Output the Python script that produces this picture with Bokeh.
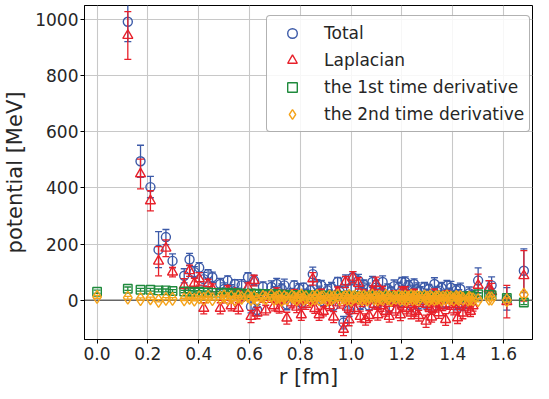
import numpy as np
from bokeh.plotting import figure
from bokeh.models import (ColumnDataSource, Range1d, FixedTicker, PrintfTickFormatter,
                          Span, Legend, LegendItem)
from bokeh.embed import file_html
from bokeh.resources import INLINE

nan = float("nan")

r_fm = [0.000, 0.121, 0.171, 0.210, 0.242, 0.271, 0.297, 0.343, 0.364, 0.383,
        0.402, 0.420, 0.437, 0.454, 0.485, 0.500, 0.514, 0.528, 0.542, 0.556,
        0.569, 0.594, 0.606, 0.618, 0.630, 0.653, 0.664, 0.686, 0.697, 0.707,
        0.717, 0.727, 0.737, 0.747, 0.767, 0.776, 0.786, 0.795, 0.804, 0.813,
        0.822, 0.840, 0.849, 0.857, 0.866, 0.874, 0.883, 0.891, 0.907, 0.915,
        0.923, 0.931, 0.947, 0.955, 0.970, 0.978, 0.985, 0.992, 1.000, 1.007,
        1.014, 1.029, 1.036, 1.043, 1.050, 1.057, 1.064, 1.071, 1.084, 1.091,
        1.098, 1.105, 1.111, 1.118, 1.124, 1.137, 1.144, 1.150, 1.157, 1.169,
        1.176, 1.188, 1.194, 1.200, 1.206, 1.213, 1.219, 1.225, 1.236, 1.242,
        1.248, 1.254, 1.260, 1.266, 1.272, 1.289, 1.295, 1.300, 1.306, 1.311,
        1.317, 1.328, 1.334, 1.339, 1.345, 1.356, 1.361, 1.372, 1.377, 1.388,
        1.393, 1.404, 1.414, 1.419, 1.424, 1.430, 1.440, 1.460, 1.465, 1.470,
        1.480, 1.500, 1.543, 1.553, 1.613, 1.680]

total = [nan, 992, 495, 403, 180, 225, 140, 87, 145, 100,
         116, 75, 93, 82, 58, 40, 70, 35, 58, 25,
         53, 82, -23, 70, -35, 48, 20, 47, 30, 58,
         10, 40, 53, -15, 25, 53, 15, 41, -10, 45,
         20, 35, 93, 10, 53, 28, 53, -5, 35, 20,
         45, -20, 65, 30, -80, 70, 15, -35, 40, 82,
         10, 70, -15, 30, 55, 5, 40, -20, 65, 25,
         45, -10, 35, 20, 65, 5, 40, -25, 30, 50,
         10, 45, -5, 65, 25, 65, 15, 53, -20, 35,
         58, 5, 40, -15, 30, 46, -10, 20, 40, 10,
         -25, 58, 15, 30, -5, 45, 20, -10, 52, 25,
         45, 5, 35, -15, 20, 40, -17, 10, 25, -5,
         15, 70, 35, 53, 5, 105]
total_err = [0, 71, 57, 38, 64, 27, 25, 25, 22, 20,
             18, 24, 16, 18, 20, 22, 17, 20, 15, 18,
             20, 16, 22, 18, 20, 17, 16, 22, 18, 20,
             15, 18, 22, 19, 17, 16, 20, 18, 22, 16,
             19, 18, 25, 16, 20, 22, 18, 16, 20, 17,
             18, 21, 16, 19, 22, 20, 18, 23, 17, 20,
             16, 22, 18, 20, 17, 19, 21, 16, 20, 18,
             25, 17, 19, 20, 22, 16, 18, 20, 17, 22,
             18, 19, 20, 16, 23, 18, 20, 17, 21, 19,
             18, 16, 22, 20, 18, 17, 21, 19, 16, 20,
             18, 22, 17, 19, 20, 18, 16, 21, 19, 18,
             22, 17, 20, 19, 18, 21, 20, 18, 22, 19,
             20, 45, 34, 30, 40, 78]

laplacian = [nan, 943, 450, 354, 139, 185, 100, 52, 105, 60,
             76, -29, 58, 40, -29, 10, 35, -20, 25, -29,
             15, 45, -58, 70, -46, 10, -35, 12, -20, 25,
             -30, 5, 15, -64, -10, 20, -25, 5, -52, 10,
             -15, 0, 76, -30, 15, -52, 20, -40, 0, -20,
             10, -60, 30, -10, -104, 65, -25, -70, 5, 82,
             -30, 60, -58, -5, 20, -69, 5, -55, 30, -15,
             60, -52, 0, -20, 30, -40, 5, -58, -5, 15,
             -35, 10, -52, 30, -15, 30, -30, 15, -46, 0,
             20, -40, 5, -55, -5, 10, -75, -15, 5, -30,
             -60, 20, -25, -5, -45, 10, -20, -69, 15, -15,
             10, -35, 0, -63, -15, 5, -46, -25, -10, -40,
             -20, 53, 40, 30, -5, 87]
laplacian_err = [0, 85, 53, 36, 52, 30, 17, 25, 20, 18,
                 22, 20, 16, 18, 20, 19, 17, 18, 16, 20,
                 18, 17, 22, 19, 20, 18, 17, 20, 18, 19,
                 16, 18, 20, 21, 17, 18, 19, 18, 20, 17,
                 18, 19, 22, 17, 18, 20, 19, 16, 18, 17,
                 19, 20, 17, 18, 22, 20, 18, 21, 17, 20,
                 18, 20, 19, 18, 17, 20, 19, 18, 20, 17,
                 22, 19, 18, 20, 19, 17, 18, 20, 17, 19,
                 18, 20, 21, 17, 20, 18, 19, 17, 20, 18,
                 19, 17, 20, 19, 18, 17, 22, 19, 18, 20,
                 18, 20, 17, 19, 20, 18, 17, 21, 19, 18,
                 20, 17, 19, 20, 18, 21, 20, 19, 20, 18,
                 19, 40, 30, 30, 58, 90]

deriv1 = [30, 41, 37, 37, 35, 35, 33, 31, 30, 28,
          30, 27, 28, 26, 27, 25, 27, 24, 25, 23,
          24, 22, 24, 21, 23, 20, 22, 21, 19, 21,
          20, 18, 20, 19, 17, 19, 18, 17, 19, 16,
          18, 17, 16, 18, 15, 17, 16, 15, 17, 14,
          16, 15, 14, 16, 15, 13, 15, 14, 16, 13,
          15, 14, 13, 15, 14, 13, 15, 14, 12, 14,
          13, 15, 12, 14, 13, 12, 14, 13, 15, 12,
          14, 13, 12, 14, 13, 11, 13, 14, 12, 13,
          11, 13, 12, 14, 11, 13, 12, 11, 13, 12,
          14, 11, 12, 13, 11, 12, 13, 11, 12, 14,
          11, 13, 12, 10, 12, 13, 11, 14, 12, 15,
          13, 21, 20, 18, 8, -8]
deriv1_err = [6, 6, 5, 5, 5, 5, 5, 4, 5, 4,
              4, 3, 5, 4, 4, 3, 4, 5, 4, 3,
              4, 4, 3, 5, 4, 4, 3, 4, 4, 5,
              3, 4, 4, 3, 5, 4, 4, 3, 4, 4,
              5, 3, 4, 4, 3, 4, 5, 4, 3, 4,
              4, 3, 5, 4, 4, 3, 4, 4, 5, 3,
              4, 4, 3, 5, 4, 4, 3, 4, 4, 5,
              3, 4, 4, 3, 5, 4, 4, 3, 4, 4,
              5, 3, 4, 4, 3, 4, 5, 4, 3, 4,
              4, 3, 5, 4, 4, 3, 4, 4, 5, 3,
              4, 4, 3, 5, 4, 4, 3, 4, 4, 5,
              3, 4, 4, 3, 5, 4, 4, 5, 4, 4,
              5, 6, 6, 7, 8, 8]

deriv2 = [12, 9, 4, 7, -2, 5, 5, 3, 8, 2,
          10, 5, 12, 4, 9, 14, 6, 11, 3, 13,
          8, 15, 5, 10, 2, 12, 7, 16, 4, 9,
          13, 1, 11, 6, 14, 8, 3, 12, 17, 5,
          10, 0, 13, 7, 15, 4, 9, 11, 2, 14,
          6, 10, 16, 3, 8, 12, 5, 15, 1, 9,
          13, 7, 11, 4, 14, 8, 2, 12, 16, 6,
          10, 3, 13, 9, 5, 15, 7, 11, 1, 12,
          8, 14, 4, 10, 6, 13, 2, 9, 15, 5,
          11, 7, 12, 3, 10, 14, 6, 9, 1, 13,
          8, 4, 11, 7, 12, 2, 10, 6, 14, 5,
          9, 3, 12, 8, 4, 11, 6, 2, 9, 5,
          3, 0, 6, 6, 0, 20]
deriv2_err = [5, 5, 4, 4, 4, 4, 4, 4, 3, 4,
              5, 4, 3, 4, 5, 4, 4, 3, 5, 4,
              4, 3, 5, 4, 4, 5, 3, 4, 4, 5,
              4, 4, 3, 5, 4, 4, 5, 3, 4, 4,
              5, 4, 4, 3, 5, 4, 4, 5, 3, 4,
              4, 5, 4, 4, 3, 5, 4, 4, 5, 3,
              4, 4, 5, 4, 4, 3, 5, 4, 4, 5,
              3, 4, 4, 5, 4, 4, 3, 5, 4, 4,
              5, 3, 4, 4, 5, 4, 4, 3, 5, 4,
              4, 5, 4, 4, 3, 5, 4, 4, 5, 3,
              4, 4, 5, 4, 4, 3, 5, 4, 4, 5,
              3, 4, 4, 5, 4, 4, 3, 5, 4, 4,
              5, 6, 6, 7, 8, 10]

x_ticks = [0.0, 0.2, 0.4, 0.6, 0.8, 1.0, 1.2, 1.4, 1.6]
y_ticks = [0, 200, 400, 600, 800, 1000]

for name, arr in [("total", total), ("total_err", total_err), ("laplacian", laplacian),
                  ("laplacian_err", laplacian_err), ("deriv1", deriv1), ("deriv1_err", deriv1_err),
                  ("deriv2", deriv2), ("deriv2_err", deriv2_err)]:
    if len(arr) != len(r_fm):
        raise ValueError(f"{name}: {len(arr)} vs {len(r_fm)}")

FONT = "DejaVu Sans"
TXT = "#262626"

p = figure(width=533, height=391, output_backend="svg", toolbar_location=None,
           x_range=Range1d(-0.0495, 1.714), y_range=Range1d(-140, 1050),
           min_border_left=77, min_border_right=1, min_border_top=5, min_border_bottom=40)
p.background_fill_color = "white"
p.outline_line_color = "black"
p.outline_line_width = 1

for ax in (p.xaxis[0], p.yaxis[0]):
    ax.major_label_text_font = FONT
    ax.major_label_text_font_size = "17px"
    ax.major_label_text_color = TXT
    ax.minor_tick_line_color = None
    ax.major_tick_in = 0
    ax.major_tick_out = 4
    ax.major_tick_line_color = "black"
    ax.axis_line_color = "black"
    ax.axis_line_width = 1
    ax.axis_label_text_font = FONT
    ax.axis_label_text_font_size = "21px"
    ax.axis_label_text_font_style = "normal"
    ax.axis_label_text_color = TXT

p.xaxis.ticker = FixedTicker(ticks=x_ticks)
p.xaxis.formatter = PrintfTickFormatter(format="%.1f")
p.xaxis.major_label_standoff = 3
p.xaxis.axis_label = "r [fm]"
p.xaxis.axis_label_standoff = 2
p.yaxis.ticker = FixedTicker(ticks=y_ticks)
p.yaxis.major_label_standoff = 2
p.yaxis.axis_label = "potential [MeV]"
p.yaxis.axis_label_standoff = 5

p.grid.grid_line_color = "#c8c8c8"
p.grid.grid_line_width = 1.1

zero = Span(location=0, dimension="width", line_color="#666666", line_width=1.5, level="underlay")
p.add_layout(zero)

series = [
    ("Total", total, total_err, "#3c5aa8", "circle", 9),
    ("Laplacian", laplacian, laplacian_err, "#e8202a", "triangle", 10),
    ("the 1st time derivative", deriv1, deriv1_err, "#1f8a3c", "square", 8.5),
    ("the 2nd time derivative", deriv2, deriv2_err, "#f5a31a", "diamond", 13),
]

items = []
r_arr = np.array(r_fm, dtype=float)
for label, vals, errs, color, marker, size in series:
    v = np.array(vals, dtype=float)
    e = np.array(errs, dtype=float)
    src = ColumnDataSource(dict(r=r_arr, v=v, lo=v - e, hi=v + e))
    p.segment(x0="r", y0="lo", x1="r", y1="hi", source=src, line_color=color, line_width=1.3)
    p.scatter(x="r", y="lo", source=src, marker="dash", size=7, line_color=color, line_width=1.3)
    p.scatter(x="r", y="hi", source=src, marker="dash", size=7, line_color=color, line_width=1.3)
    mk = p.scatter(x="r", y="v", source=src, marker=marker, size=size,
                   line_color=color, line_width=1.4, fill_alpha=0)
    items.append(LegendItem(label=label, renderers=[mk]))

legend = Legend(items=items, location=(182, 207), margin=0, padding=5,
                label_text_font=FONT, label_text_font_size="17px", label_text_color=TXT,
                glyph_width=40, glyph_height=24, label_height=20, label_standoff=12,
                spacing=3, border_line_color="#666666", border_line_width=1.2,
                border_radius=4, background_fill_color="white", background_fill_alpha=0.85)
p.add_layout(legend)

open("out.html", "w").write(file_html(p, INLINE))
